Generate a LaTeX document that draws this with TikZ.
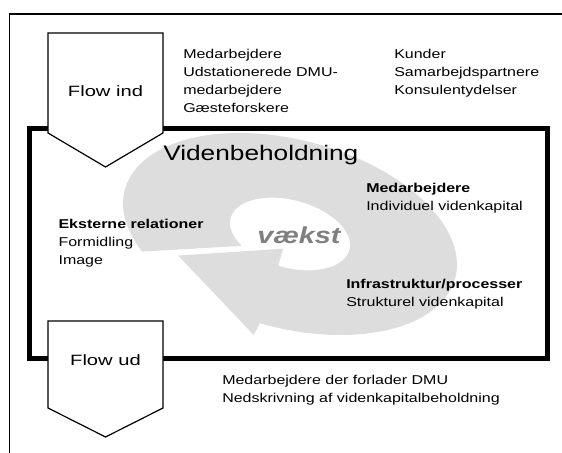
\documentclass[tikz,border=0pt]{standalone}
\usepackage{fontspec}
\setmainfont{Liberation Sans}[FakeStretch=1.25]
\newfontfamily\flowfont{Liberation Sans}[FakeStretch=1.35]
\usepackage{tikz}
\usetikzlibrary{positioning}
\definecolor{Ink}{HTML}{000000}
\definecolor{RingGray}{HTML}{DDDDDD}
\definecolor{GrowthGray}{HTML}{808080}

\begin{document}
\begin{tikzpicture}[
  x=0.75pt, y=0.75pt,
  font=\fontsize{9.6}{13.5}\selectfont,
  frameline/.style={draw=Ink, line width=1pt},
  stockline/.style={draw=Ink, line width=3.4pt},
  flowshape/.style={draw=Ink, line width=0.9pt, fill=white, line join=miter},
  flowlabel/.style={font=\flowfont\fontsize{11.2}{13}\selectfont, anchor=base, inner sep=0pt},
  note/.style={anchor=north west, align=left, inner sep=0pt},
  heading/.style={font=\fontsize{15.75}{18}\selectfont, anchor=base west, inner sep=0pt},
  growth/.style={font=\bfseries\itshape\fontsize{17.3}{20}\selectfont, text=GrowthGray, anchor=base west, inner sep=0pt}
]
\fill[white] (0,0) rectangle (562,453);
\useasboundingbox (0,0) rectangle (562,453);

\draw[frameline] (9.5,0) -- (9.5,439) -- (562,439);

\coordinate (arrowtip) at (176,197);
\coordinate (barbout) at (253,116);
\coordinate (barbin) at (283,204);
\begin{scope}[shift={(290,219)}, rotate=-15, xscale=171, yscale=94]
  \fill[RingGray] (216:1) arc[start angle=216, end angle=-92, radius=1]
    -- (barbout) -- (arrowtip) -- (barbin)
    -- (-93:0.36) arc[start angle=-93, end angle=225, radius=0.36] -- cycle;
\end{scope}

\draw[stockline] (29.5,94.5) rectangle (547.5,324.5);

\draw[flowshape] (48,420) -- (163,420) -- (163,320) -- (105.5,286) -- (48,320) -- cycle;
\draw[flowshape] (48,132) -- (163,132) -- (163,45) -- (105.5,16) -- (48,45) -- cycle;
\node[flowlabel] (flowin) at (105.5,356.3) {Flow ind};
\node[flowlabel] (flowout) at (105.5,87.3) {Flow ud};

\node[note] (inflowstaff) at (183,404) {Medarbejdere\\Udstationerede DMU-\\medarbejdere\\Gæsteforskere};
\node[note] (inflowpartners) at (394,404) {Kunder\\Samarbejdspartnere\\Konsulentydelser};

\node[heading] (stock) at (163,292) {Videnbeholdning};
\node[growth] (growth) at (257,209.7) {vækst};

\node[note] (staff) at (366,270) {\textbf{Medarbejdere}\\Individuel videnkapital};
\node[note] (infrastructure) at (346,174.5) {\textbf{Infrastruktur/processer}\\Strukturel videnkapital};
\node[note] (relations) at (58.3,234) {\textbf{Eksterne relationer}\\Formidling\\Image};

\node[note] (outflow) at (222,78.2) {Medarbejdere der forlader DMU\\Nedskrivning af videnkapitalbeholdning};
\end{tikzpicture}
\end{document}
